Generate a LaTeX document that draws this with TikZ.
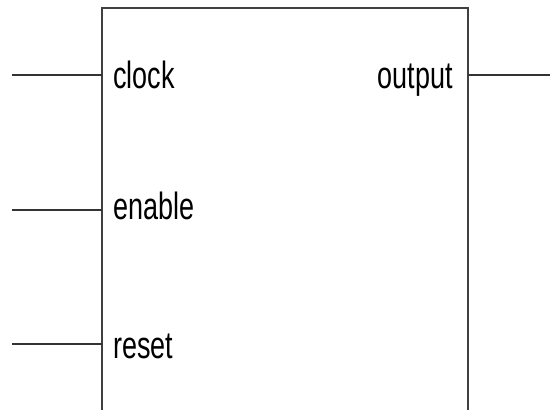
\documentclass[tikz,border=0pt]{standalone}
\usepackage{fontspec}
\newfontfamily\pinfont[FakeStretch=0.71]{Liberation Sans}
\begin{document}
\begin{tikzpicture}[x=1pt,y=-1pt,
  wire/.style={line width=1.4pt,draw=black!80},
  body/.style={line width=1.6pt,draw=black!75},
  pinlabel/.style={inner sep=0pt,font=\pinfont\fontsize{38}{40}\selectfont}]
\useasboundingbox (0,0) rectangle (550,410);
% block outline (open at the bottom)
\draw[body] (102,412) -- (102,8) -- (468,8) -- (468,412);
% pin points on the block edges
\coordinate (pclk) at (102,75);
\coordinate (pen)  at (102,210);
\coordinate (prst) at (102,344);
\coordinate (pout) at (468,75);
% free wire ends
\coordinate (wclk) at (12,75);
\coordinate (wen)  at (12,210);
\coordinate (wrst) at (12,344);
\coordinate (wout) at (550,75);
% pin labels
\node[pinlabel,anchor=base west] (lclk) at (113,88)  {clock};
\node[pinlabel,anchor=base west] (len)  at (113,219) {enable};
\node[pinlabel,anchor=base west] (lrst) at (113,358) {reset};
\node[pinlabel,anchor=base east] (lout) at (453,88)  {output};
% wires
\draw[wire] (wclk) -- (pclk);
\draw[wire] (wen)  -- (pen);
\draw[wire] (wrst) -- (prst);
\draw[wire] (pout) -- (wout);
\end{tikzpicture}
\end{document}
